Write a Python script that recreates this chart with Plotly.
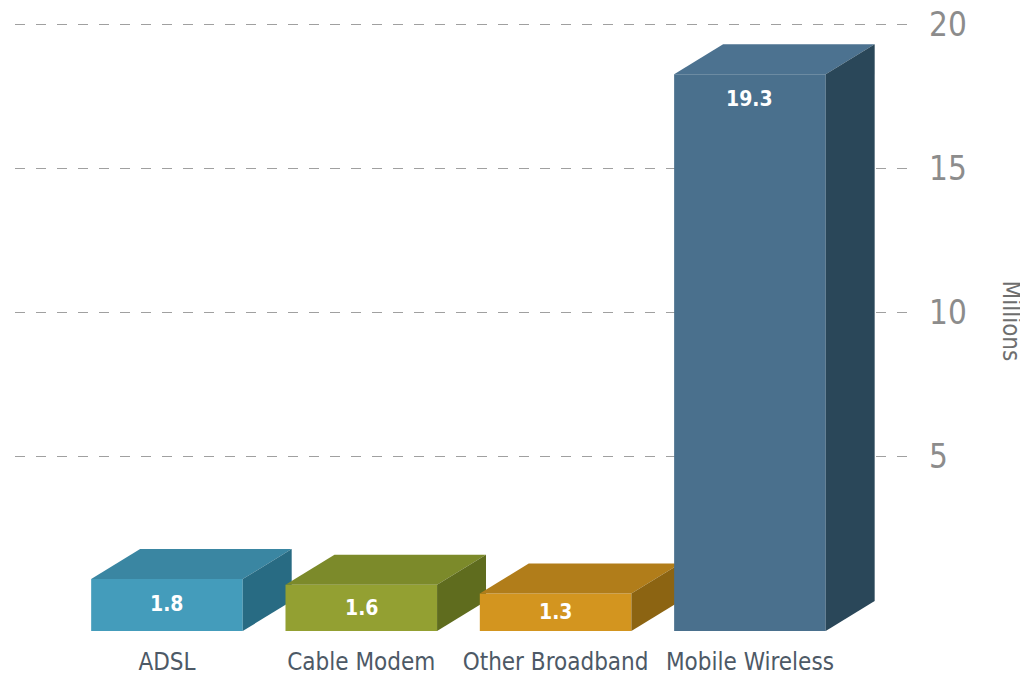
import plotly.graph_objects as go

categories = ["ADSL", "Cable Modem", "Other Broadband", "Mobile Wireless"]
values = [1.8, 1.6, 1.3, 19.3]
value_labels = ["1.8", "1.6", "1.3", "19.3"]
front_colors = ["#449CBB", "#93A032", "#D3951F", "#4A708D"]
top_colors = ["#3A86A2", "#7C8A2A", "#B17D1A", "#4C7290"]
side_colors = ["#286B83", "#5F6C1E", "#8C6412", "#2A4759"]
y_ticks = [5, 10, 15, 20]

# 3D geometry (styling)
BAR_W = 0.78
DX = 0.252
DY = 1.04

FONT = "DejaVu Sans Condensed, Liberation Sans Narrow, sans-serif"

fig = go.Figure()
xpos = list(range(len(categories)))

for i, v in enumerate(values):
    x0 = xpos[i] - BAR_W / 2
    x1 = xpos[i] + BAR_W / 2
    ftop = v - DY
    # front face
    fig.add_trace(go.Scatter(
        x=[x0, x1, x1, x0, x0], y=[-DY, -DY, ftop, ftop, -DY],
        fill="toself", fillcolor=front_colors[i], mode="lines",
        line=dict(width=0, color=front_colors[i]), hoverinfo="skip"))
    # top face
    fig.add_trace(go.Scatter(
        x=[x0, x1, x1 + DX, x0 + DX, x0], y=[ftop, ftop, v, v, ftop],
        fill="toself", fillcolor=top_colors[i], mode="lines",
        line=dict(width=0, color=top_colors[i]), hoverinfo="skip"))
    # side face
    fig.add_trace(go.Scatter(
        x=[x1, x1 + DX, x1 + DX, x1, x1], y=[-DY, 0, v, ftop, -DY],
        fill="toself", fillcolor=side_colors[i], mode="lines",
        line=dict(width=0, color=side_colors[i]), hoverinfo="skip"))
    # value label
    fig.add_annotation(
        x=xpos[i], y=ftop - min(v / 2, 0.85), text=value_labels[i],
        showarrow=False, xanchor="center", yanchor="middle",
        font=dict(family=FONT, size=21, color="white", weight="bold"))

fig.add_annotation(
    xref="x domain", yref="y domain", x=1.0, y=0.5, xshift=93,
    text="Millions", showarrow=False, textangle=90,
    xanchor="center", yanchor="middle",
    font=dict(family=FONT, size=24, color="#6E6E6E"))

# page body adds an 8px margin; figure is sized to fit the 1028x675 window
fig.update_layout(
    width=1020, height=667,
    margin=dict(l=7, r=110, t=2, b=44, autoexpand=False),
    paper_bgcolor="white", plot_bgcolor="white",
    showlegend=False,
    xaxis=dict(
        range=[-0.782, 3.865], tickvals=xpos, ticktext=categories,
        showgrid=False, zeroline=False, showline=False, ticks="",
        ticklabelstandoff=14, automargin=False,
        tickfont=dict(family=FONT, size=24, color="#4D5966")),
    yaxis=dict(
        range=[-DY, 20.49], side="right", tickvals=y_ticks,
        showgrid=True, gridcolor="#A0A0A0", gridwidth=1, griddash="10px,11px",
        zeroline=False, showline=False, ticks="",
        ticklabelstandoff=10, automargin=False, ticklabeloverflow="allow",
        tickfont=dict(family=FONT, size=33, color="#8C8C8C")),
)

fig.write_html("out.html")
